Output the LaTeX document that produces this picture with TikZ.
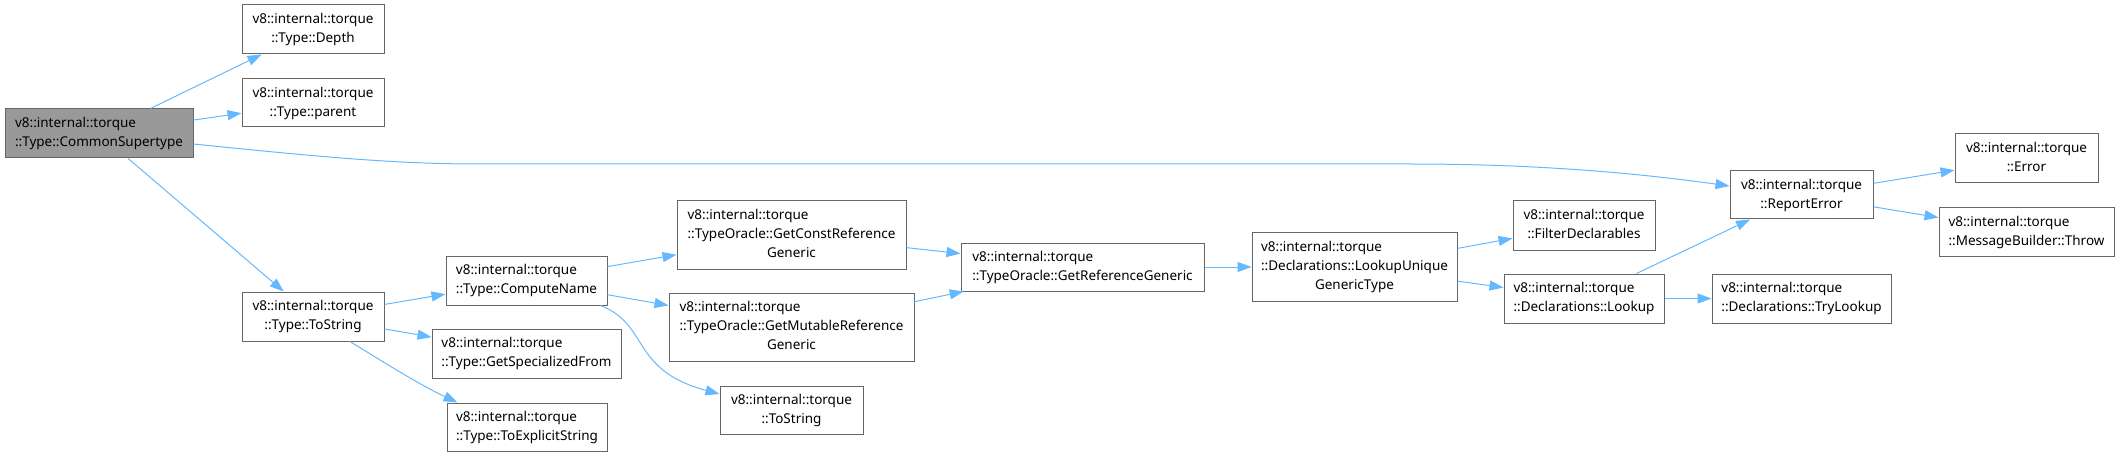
\documentclass[tikz,border=0pt]{standalone}
\usepackage{fontspec}
\setmainfont{Noto Sans}
\usetikzlibrary{arrows.meta,calc}
\definecolor{arrowblue}{HTML}{63B8FF}
\definecolor{boxgray}{HTML}{666666}
\definecolor{rootfill}{HTML}{999999}
\newcommand{\twol}[2]{\begin{tabular}{@{}l@{}}#1\\\multicolumn{1}{@{}c@{}}{#2}\end{tabular}}
\newcommand{\threel}[3]{\begin{tabular}{@{}l@{}}#1\\#2\\\multicolumn{1}{@{}c@{}}{#3}\end{tabular}}
\tikzset{
  fnbox/.style={rectangle, draw=boxgray, fill=white, line width=1pt, inner sep=0pt,
    font=\fontsize{13.5}{19}\selectfont, text=black},
  rootbox/.style={fnbox, fill=rootfill},
  link/.style={draw=arrowblue, line width=1pt, -{Triangle[length=14pt,width=10pt]}}
}
\begin{document}
\begin{tikzpicture}[x=1pt,y=-1pt]
\useasboundingbox (0,0) rectangle (2120,457);
\node[rootbox, minimum width=188pt, minimum height=49pt] (cs) at (99,133.5) {\twol{v8::internal::torque}{::Type::CommonSupertype}};
\node[fnbox, minimum width=142pt, minimum height=49pt] (depth) at (313,29.5) {\twol{v8::internal::torque}{::Type::Depth}};
\node[fnbox, minimum width=142pt, minimum height=48pt] (parent) at (313,103) {\twol{v8::internal::torque}{::Type::parent}};
\node[fnbox, minimum width=142pt, minimum height=49pt] (tostr) at (313,316.5) {\twol{v8::internal::torque}{::Type::ToString}};
\node[fnbox, minimum width=161pt, minimum height=49pt] (compname) at (526.5,280.5) {\twol{v8::internal::torque}{::Type::ComputeName}};
\node[fnbox, minimum width=189pt, minimum height=49pt] (getspec) at (526.5,353.5) {\twol{v8::internal::torque}{::Type::GetSpecializedFrom}};
\node[fnbox, minimum width=160pt, minimum height=48pt] (toexpl) at (527,427) {\twol{v8::internal::torque}{::Type::ToExplicitString}};
\node[fnbox, minimum width=229pt, minimum height=68pt] (getconst) at (791.5,235) {\threel{v8::internal::torque}{::TypeOracle::GetConstReference}{Generic}};
\node[fnbox, minimum width=245pt, minimum height=68pt] (getmut) at (791.5,327) {\threel{v8::internal::torque}{::TypeOracle::GetMutableReference}{Generic}};
\node[fnbox, minimum width=143pt, minimum height=48pt] (tstring) at (791.5,410) {\twol{v8::internal::torque}{::ToString}};
\node[fnbox, minimum width=243pt, minimum height=48pt] (getref) at (1082.5,267) {\twol{v8::internal::torque}{::TypeOracle::GetReferenceGeneric}};
\node[fnbox, minimum width=205pt, minimum height=68pt] (lookupuniq) at (1354.5,267) {\threel{v8::internal::torque}{::Declarations::LookupUnique}{GenericType}};
\node[fnbox, minimum width=142pt, minimum height=49pt] (filter) at (1584,225.5) {\twol{v8::internal::torque}{::FilterDeclarables}};
\node[fnbox, minimum width=160pt, minimum height=49pt] (lookup) at (1584,298.5) {\twol{v8::internal::torque}{::Declarations::Lookup}};
\node[fnbox, minimum width=143pt, minimum height=48pt] (report) at (1801.5,195) {\twol{v8::internal::torque}{::ReportError}};
\node[fnbox, minimum width=143pt, minimum height=49pt] (error) at (2026.5,158.5) {\twol{v8::internal::torque}{::Error}};
\node[fnbox, minimum width=175pt, minimum height=48pt] (throw) at (2026.5,232) {\twol{v8::internal::torque}{::MessageBuilder::Throw}};
\node[fnbox, minimum width=179pt, minimum height=49pt] (trylookup) at (1801.5,298.5) {\twol{v8::internal::torque}{::Declarations::TryLookup}};

\draw[link] (cs) -- (depth);
\draw[link] (cs) -- (parent);
\draw[link] ($(cs.east)+(0,10.5)$) .. controls (330,158) and (400,164) .. (480,164) -- (1410,164) .. controls (1550,164) and (1650,175) .. ($(report.west)+(0,-9)$);
\draw[link] (cs) -- (tostr);
\draw[link] (tostr) -- (compname);
\draw[link] (tostr) -- (getspec);
\draw[link] ($(tostr.south)+(37,0)$) .. controls (385,363) and (420,385) .. ($(toexpl.north west)+(11,0)$);
\draw[link] (compname) -- (getconst);
\draw[link] (compname) -- (getmut);
\draw[link] ($(compname.south east)+(-7,0)$) .. controls (650,325) and (630,370) .. ($(tstring.west)+(0,-16)$);
\draw[link] (getconst) -- (getref);
\draw[link] (getmut) -- (getref);
\draw[link] (getref) -- (lookupuniq);
\draw[link] (lookupuniq) -- (filter);
\draw[link] (lookupuniq) -- (lookup);
\draw[link] (lookup) -- (report);
\draw[link] (lookup) -- (trylookup);
\draw[link] (report) -- (error);
\draw[link] (report) -- (throw);
\end{tikzpicture}
\end{document}
